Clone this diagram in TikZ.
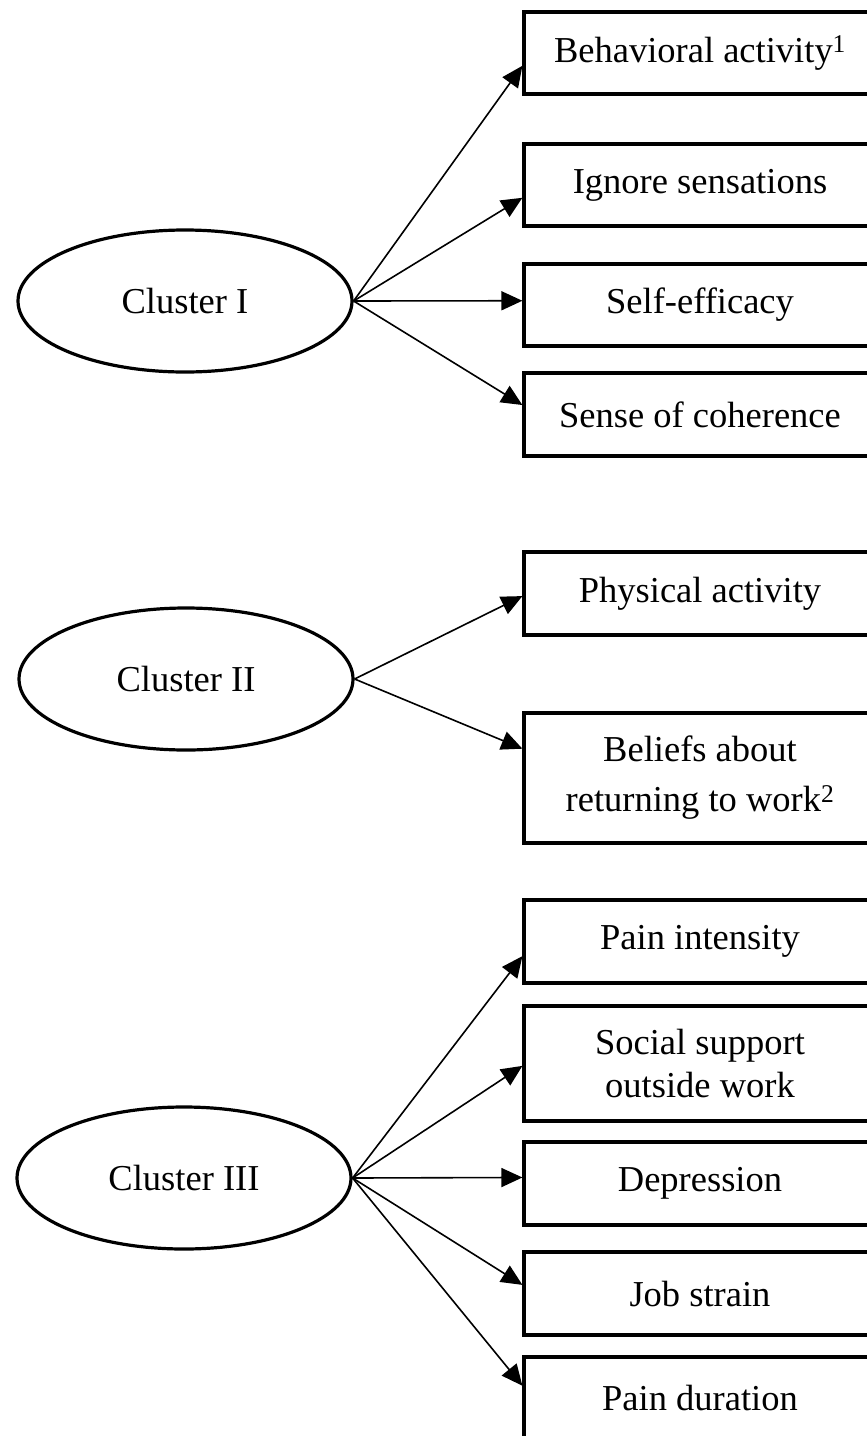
\documentclass[tikz,border=0pt]{standalone}
\usepackage{fontspec}
\setmainfont{Liberation Serif}
\usetikzlibrary{arrows.meta,calc,shapes.geometric}

\begin{document}
\begin{tikzpicture}[x=1pt,y=-1pt,
  cluster/.style={draw,ellipse,line width=3.2pt,minimum width=334pt,minimum height=142pt,inner sep=0pt,font=\fontsize{36.5}{44}\selectfont},
  factor/.style={draw,rectangle,line width=3.2pt,minimum width=352pt,align=center,inner sep=0pt,font=\fontsize{36.5}{44}\selectfont},
  link/.style={line width=1.6pt,-{Triangle[length=21pt,width=19pt]}}]
  % Frame
  \useasboundingbox (0,0) rectangle (867,1436);
  \clip (0,0) rectangle (867,1436);
  \fill[white] (0,0) rectangle (867,1436);
  % Clusters
  \node[cluster] (c1) at (185,301) {Cluster I};
  \node[cluster] (c2) at (186,679) {Cluster II};
  \node[cluster] (c3) at (184,1178) {Cluster III};
  % Cluster I factors
  \node[factor,minimum height=82pt] (b1) at (700,53) {Behavioral activity\textsuperscript{1}};
  \node[factor,minimum height=82pt] (b2) at (700,185) {Ignore sensations};
  \node[factor,minimum height=82pt] (b3) at (700,305) {Self-efficacy};
  \node[factor,minimum height=83pt] (b4) at (700,414.5) {Sense of coherence};
  % Cluster II factors
  \node[factor,minimum height=83pt] (b5) at (700,593.5) {Physical activity};
  \node[factor,minimum height=130pt,font=\fontsize{36.5}{50}\selectfont] (b6) at (700,778) {Beliefs about\\returning to work\textsuperscript{2}};
  % Cluster III factors
  \node[factor,minimum height=83pt] (b7) at (700,941.5) {Pain intensity};
  \node[factor,minimum height=115pt,font=\fontsize{36.5}{43}\selectfont] (b8) at (700,1063.5) {Social support\\outside work};
  \node[factor,minimum height=83pt] (b9) at (700,1183.5) {Depression};
  \node[factor,minimum height=83pt] (b10) at (700,1293.5) {Job strain};
  \node[factor,minimum height=81pt] (b11) at (700,1397.5) {Pain duration};
  % Arrows
  \foreach \b/\f in {b1/0.65,b2/0.65,b3/0.45,b4/0.39}
    \draw[link] (c1.east) -- ($(\b.north west)!\f!(\b.south west)$);
  \foreach \b/\f in {b5/0.53,b6/0.28}
    \draw[link] (c2.east) -- ($(\b.north west)!\f!(\b.south west)$);
  \foreach \b/\f in {b7/0.67,b8/0.52,b9/0.43,b10/0.40,b11/0.36}
    \draw[link] (c3.east) -- ($(\b.north west)!\f!(\b.south west)$);
\end{tikzpicture}
\end{document}
